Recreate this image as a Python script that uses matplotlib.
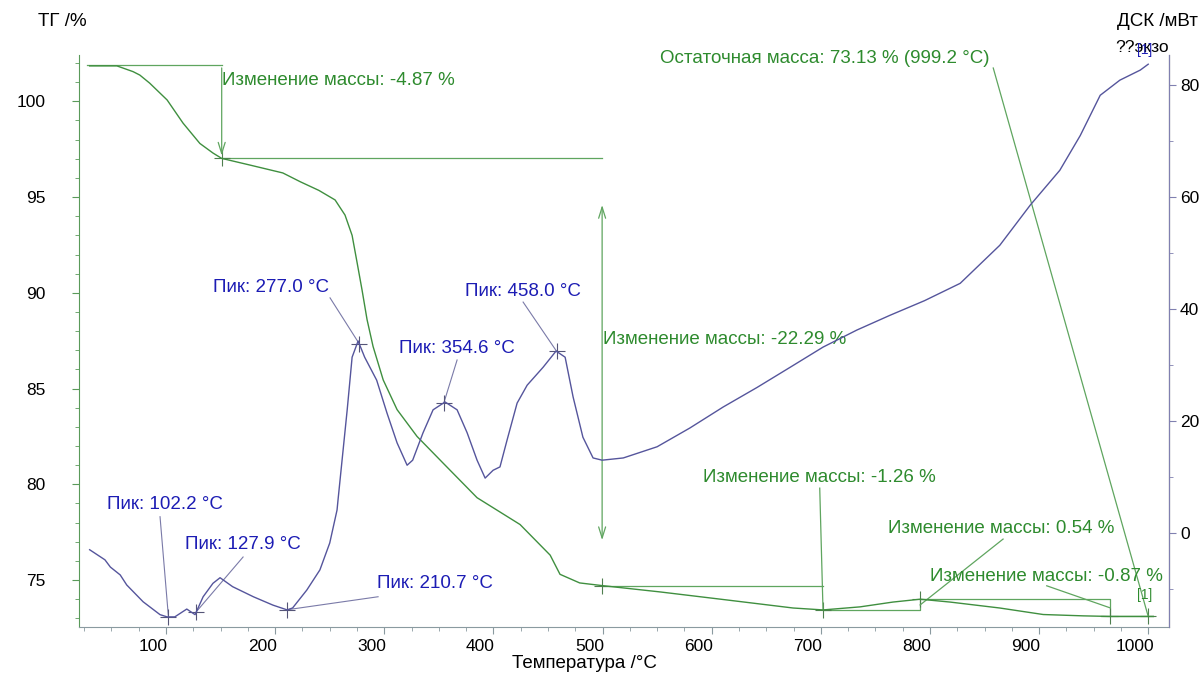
import numpy as np
import matplotlib.pyplot as plt
import matplotlib.transforms as mtransforms
from matplotlib.ticker import MultipleLocator

plt.rcParams['font.family'] = ['Liberation Sans', 'DejaVu Sans']

# --- ДСК (мВт) ---
dsc_t = [30, 44, 49, 58, 64, 79, 94.5, 101, 108, 119, 126.6, 134, 143, 149.5, 161, 180, 198, 211,
         216, 229, 241, 250, 256.7, 257.6, 266, 270.5, 276, 282, 293, 302.5, 311.7, 320.9, 326,
         335.5, 344.7, 355.7, 366.7, 375.9, 385, 392.4, 399.7, 406, 412.5, 421.7, 430.9, 445.5,
         457.4, 465.7, 473, 482, 491.3, 499.6, 519, 550, 580, 610.5, 641.6, 671.9, 702, 733, 763.5,
         795, 827.7, 864, 892, 919, 937.7, 956, 974, 992.7, 1000]
dsc_v = [-3.0, -4.8, -6.1, -7.5, -9.3, -12.3, -14.6, -15.0, -15.0, -13.6, -14.6, -11.4, -9.0, -8.0,
         -9.6, -11.4, -12.9, -13.75, -13.4, -10.2, -6.6, -1.8, 4.1, 5.9, 22, 31.4, 34.3, 31.4, 27.3,
         21.4, 16.1, 12.1, 13.0, 17.9, 22.0, 23.4, 22.0, 17.9, 13.0, 9.8, 11.2, 11.8, 16.6, 23.2, 26.4,
         29.6, 32.5, 31.4, 24.3, 17.1, 13.4, 13.0, 13.4, 15.4, 18.75, 22.5, 26.0, 29.6, 33.2, 36.25,
         38.9, 41.5, 44.6, 51.4, 58.6, 64.8, 71.0, 78.2, 80.9, 82.7, 83.75]

# --- ТГ (%) ---
tg_t = [30, 55, 69.8, 76, 85, 101, 115.6, 131, 143, 151, 177, 207, 223, 240, 254.9, 264, 270.5,
        275, 279.6, 284.2, 289.7, 299, 311.7, 330, 354, 385, 424.4, 452, 461, 479, 499.6, 552.7,
        614, 674.6, 702, 736, 766, 791, 818.5, 864, 903.8, 940.5, 965, 1000, 1004.6]
tg_v = [101.85, 101.85, 101.55, 101.37, 100.95, 100.07, 98.86, 97.8, 97.3, 97.02, 96.67, 96.26, 95.8,
        95.35, 94.85, 94.06, 93.0, 91.6, 90.15, 88.6, 87.2, 85.45, 83.9, 82.5, 81.1, 79.3, 77.9, 76.3,
        75.3, 74.85, 74.71, 74.38, 73.96, 73.54, 73.44, 73.6, 73.85, 74.0, 73.85, 73.54, 73.2, 73.13,
        73.1, 73.1, 73.1]

# пики ДСК: температура, позиция подписи, начало выноски
peak_t = [102.2, 127.9, 210.7, 277.0, 354.6, 458.0]
peak_label_pos = [(99, 5.0), (170, -2.1), (346.5, -9.1), (196, 43.9), (366.7, 33.0), (427, 43.2)]
peak_leader_from = [(94.5, 2.9), (170.6, -4.3), (294.3, -11.4), (250.3, 42.0), (366.7, 30.9), (427.2, 41.25)]

# ступени ТГ
step_t = [151, 499.6, 702, 791, 965, 1000]
step_v = [97.02, 74.71, 73.44, 74.0, 73.1, 73.1]
start_v = 101.89

GREEN = '#2e8b2e'
GREEN_L = '#5fa55f'
BLUE = '#1c1cb4'
DSC_C = '#55559c'
LEAD_B = '#7a7aa8'

fig = plt.figure(figsize=(12.03, 6.73), dpi=100)
ax = fig.add_axes([0.0659, 0.0684, 0.9058, 0.8499])
ax2 = ax.twinx()

ax.set_xlim(20.5, 1019)
ax.set_ylim(72.55, 102.42)
ax2.set_ylim(-16.8, 85.4)

# кривые
ax.plot(tg_t, tg_v, color='#3f8f3f', lw=1.0, zorder=3)
ax2.plot(dsc_t, dsc_v, color=DSC_C, lw=1.0, zorder=3)

# пики ДСК
for t, (lx, ly), (fx, fy) in zip(peak_t, peak_label_pos, peak_leader_from):
    v = np.interp(t, dsc_t, dsc_v)
    ax2.plot([fx, t], [fy, v], color=LEAD_B, lw=0.8)
    ax2.plot(t, v, marker='+', ms=11, mew=0.8, color='#555577')
    ax2.text(lx, ly, 'Пик: %.1f °C' % t, color=BLUE, fontsize=13.5, ha='center', va='center')

# ступени ТГ
ax.plot([28, step_t[0]], [start_v, start_v], color=GREEN_L, lw=0.9)
ax.annotate('', xy=(step_t[0], step_v[0]), xytext=(step_t[0], start_v),
            arrowprops=dict(arrowstyle='->,head_length=0.8,head_width=0.25', color=GREEN_L, lw=0.9))
ax.plot([step_t[0], step_t[1]], [step_v[0], step_v[0]], color=GREEN_L, lw=0.9)
ax.annotate('', xy=(step_t[1], 76.94), xytext=(step_t[1], 94.73),
            arrowprops=dict(arrowstyle='<->,head_length=0.8,head_width=0.25', color=GREEN_L, lw=0.9))
ax.plot([step_t[1], step_t[2]], [step_v[1], step_v[1]], color=GREEN_L, lw=0.9)
ax.plot([step_t[2], step_t[3], step_t[3]], [step_v[2], step_v[2], step_v[3]], color=GREEN_L, lw=0.9)
ax.plot([step_t[3], step_t[4], step_t[4]], [step_v[3], step_v[3], step_v[4]], color=GREEN_L, lw=0.9)
ax.plot([step_t[4] - 8, 1004.6], [step_v[4], step_v[4]], color=GREEN_L, lw=0.9)
ax.plot(step_t, step_v, ls='none', marker='+', ms=11, mew=0.8, color='#4f7f4f')

# выноски ТГ
ax.plot([699, 702], [79.8, step_v[2]], color=GREEN_L, lw=0.9)
ax.plot([867, step_t[3]], [77.14, 73.7], color=GREEN_L, lw=0.9)
ax.plot([907, step_t[4]], [74.7, 73.55], color=GREEN_L, lw=0.9)
ax.plot([858, 1000], [101.74, 73.1], color=GREEN_L, lw=0.9)

kw = dict(color=GREEN, fontsize=13.5, va='center')
ax.text(151.3, 101.11, 'Изменение массы: -4.87 %', ha='left', **kw)
ax.text(500.5, 87.54, 'Изменение массы: -22.29 %', ha='left', **kw)
ax.text(699, 80.33, 'Изменение массы: -1.26 %', ha='center', **kw)
ax.text(865, 77.67, 'Изменение массы: 0.54 %', ha='center', **kw)
ax.text(907, 75.2, 'Изменение массы: -0.87 %', ha='center', **kw)
ax.text(704, 102.26, 'Остаточная масса: 73.13 % (999.2 °C)', ha='center', **kw)
ax.text(997, 74.2, '[1]', color=GREEN, fontsize=10, ha='center', va='center')

# оси
ax.spines['top'].set_visible(False)
ax2.spines['top'].set_visible(False)
ax.spines['left'].set_color('#5a9a5a')
ax.spines['bottom'].set_color('#8a9aa0')
ax2.spines['left'].set_visible(False)
ax2.spines['bottom'].set_visible(False)
ax2.spines['right'].set_color('#8080b0')

ax.xaxis.set_major_locator(MultipleLocator(100))
ax.xaxis.set_minor_locator(MultipleLocator(25))
ax.yaxis.set_major_locator(MultipleLocator(5))
ax.yaxis.set_minor_locator(MultipleLocator(1))
ax2.yaxis.set_major_locator(MultipleLocator(20))
ax2.yaxis.set_minor_locator(MultipleLocator(10))

ax.tick_params(axis='x', which='major', length=5, color='#8a9aa0', labelsize=12.5, pad=4)
ax.tick_params(axis='x', which='minor', length=3, color='#8a9aa0')
ax.tick_params(axis='y', which='major', length=5, color='#5a9a5a', labelsize=12.5, pad=19.5)
ax.tick_params(axis='y', which='minor', length=3, color='#5a9a5a')
ax2.tick_params(axis='y', which='major', length=5, color='#8080b0', labelsize=12.5, pad=3)
ax2.tick_params(axis='y', which='minor', length=3, color='#8080b0')

# подписи оси X сдвинуты влево, как в исходнике
ax.set_xticks(np.arange(100, 1001, 100))
shift = mtransforms.ScaledTranslation(-13 / 100, 0, fig.dpi_scale_trans)
for lab in ax.get_xticklabels():
    lab.set_transform(lab.get_transform() + shift)

fig.text(584 / 1203, 1 - 663 / 673, 'Температура /°C', fontsize=13.5, ha='center', va='center')
fig.text(38 / 1203, 1 - 22 / 673, 'ТГ /%', fontsize=13.5, ha='left', va='center')
fig.text(1198 / 1203, 1 - 22 / 673, 'ДСК /мВт', fontsize=13.5, ha='right', va='center')
fig.text(1169 / 1203, 1 - 47 / 673, '??экзо', fontsize=12.5, ha='right', va='center')
fig.text(1145 / 1203, 1 - 50 / 673, '[1]', fontsize=10, color=BLUE, ha='center', va='center')

fig.savefig('out.png', dpi=100)
